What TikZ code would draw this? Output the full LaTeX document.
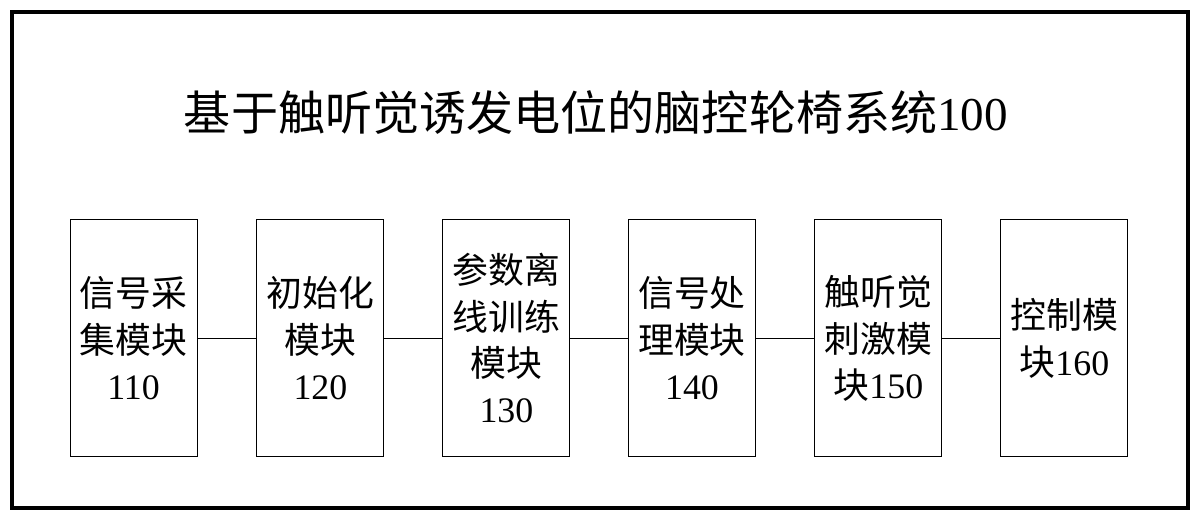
\documentclass[tikz,border=0pt]{standalone}
\usepackage{fontspec}
\setmainfont{Liberation Serif}
\newfontfamily\cjk{Noto Sans CJK SC}
\tikzset{modbox/.style={draw,line width=0.8pt,minimum width=3.175cm,minimum height=5.925cm,align=center,font=\fontsize{25.5}{33}\selectfont}}
\begin{document}
\begin{tikzpicture}
      \useasboundingbox (0,0) rectangle (30,13.05);
      \draw[line width=3pt] (0.3,0.35) rectangle (29.7,12.75);
      \node (title) at (14.9,10.23) {\fontsize{33.5}{38}\selectfont\cjk 基于触听觉诱发电位的脑控轮椅系统\normalfont 100};
      \draw
        (3.34,4.59) node[modbox] (m110){\cjk 信号采\\ \cjk 集模块\\110}
        (8.01,4.59) node[modbox] (m120){\cjk 初始化\\ \cjk 模块\\120}
        (12.66,4.59) node[modbox] (m130){\cjk 参数离\\ \cjk 线训练\\ \cjk 模块\\130}
        (17.3,4.59) node[modbox] (m140){\cjk 信号处\\ \cjk 理模块\\140}
        (21.96,4.59) node[modbox] (m150){\cjk 触听觉\\ \cjk 刺激模\\ {\cjk 块}150}
        (26.61,4.59) node[modbox] (m160){\cjk 控制模\\ {\cjk 块}160};
      \begin{scope}[line width=0.8pt]
        \draw (m110) to (m120);
        \draw (m120) to (m130);
        \draw (m130) to (m140);
        \draw (m140) to (m150);
        \draw (m150) to (m160);
      \end{scope}
    \end{tikzpicture}
\end{document}
